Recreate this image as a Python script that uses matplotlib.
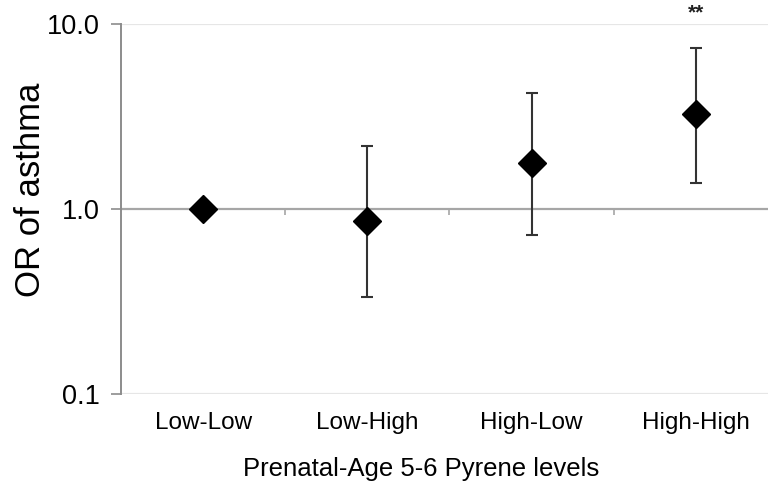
import numpy as np
import matplotlib.pyplot as plt

plt.rcParams['font.family'] = ['Liberation Sans', 'DejaVu Sans']

# odds ratios with 95% CI
groups = ['Low-Low', 'Low-High', 'High-Low', 'High-High']
odds = [1.0, 0.865, 1.77, 3.25]
ci_low = [1.0, 0.336, 0.72, 1.39]
ci_high = [1.0, 2.19, 4.22, 7.45]
stars = ['', '', '', '**']

x = np.arange(len(groups))
odds = np.array(odds)
err = [odds - np.array(ci_low), np.array(ci_high) - odds]

fig = plt.figure(figsize=(7.68, 4.93), dpi=100)
ax = fig.add_axes([0.1576, 0.2008, 0.8424, 0.7505])

ax.set_yscale('log')
ax.set_ylim(0.1, 10)
ax.set_xlim(-0.5, 3.44)

# light gridlines at 0.1 and 10, x axis crossing at 1
for yv in [0.1, 10]:
    ax.axhline(yv, color='#e6e6e6', lw=1.6, zorder=1)
ax.axhline(1, color='#a6a6a6', lw=1.6, zorder=2)
ax.vlines([0.5, 1.5, 2.5], 0.925, 1, color='#a6a6a6', lw=1.2, zorder=2)

ax.errorbar(x, odds, yerr=err, fmt='none', ecolor='#333333', elinewidth=1.5,
            capsize=4.5, capthick=1.5, zorder=3)
ax.plot(x, odds, 'D', color='black', markersize=14, zorder=4)

for xi, s in zip(x, stars):
    if s:
        ax.text(xi, 1.03, s, transform=ax.get_xaxis_transform(), ha='center',
                va='center', fontsize=15, fontweight='bold', color='#222222')

for sp in ['top', 'right', 'bottom']:
    ax.spines[sp].set_visible(False)
ax.spines['left'].set_color('#8c8c8c')
ax.spines['left'].set_linewidth(1.4)

ax.set_yticks([0.1, 1, 10])
ax.set_yticklabels(['0.1', '1.0', '10.0'])
ax.yaxis.set_minor_locator(plt.NullLocator())
ax.tick_params(axis='y', direction='out', length=7, width=1.2, color='#8c8c8c',
               labelsize=19.5, pad=8)

ax.set_xticks(x)
ax.set_xticklabels(groups)
ax.tick_params(axis='x', length=0, labelsize=17.5, pad=13)

ax.set_xlabel('Prenatal-Age 5-6 Pyrene levels', fontsize=18.5)
ax.xaxis.set_label_coords(0.4637, -0.17)
ax.set_ylabel('OR of asthma', fontsize=25)
ax.yaxis.set_label_coords(-0.115, 0.551)

fig.savefig('out.png', dpi=100)
